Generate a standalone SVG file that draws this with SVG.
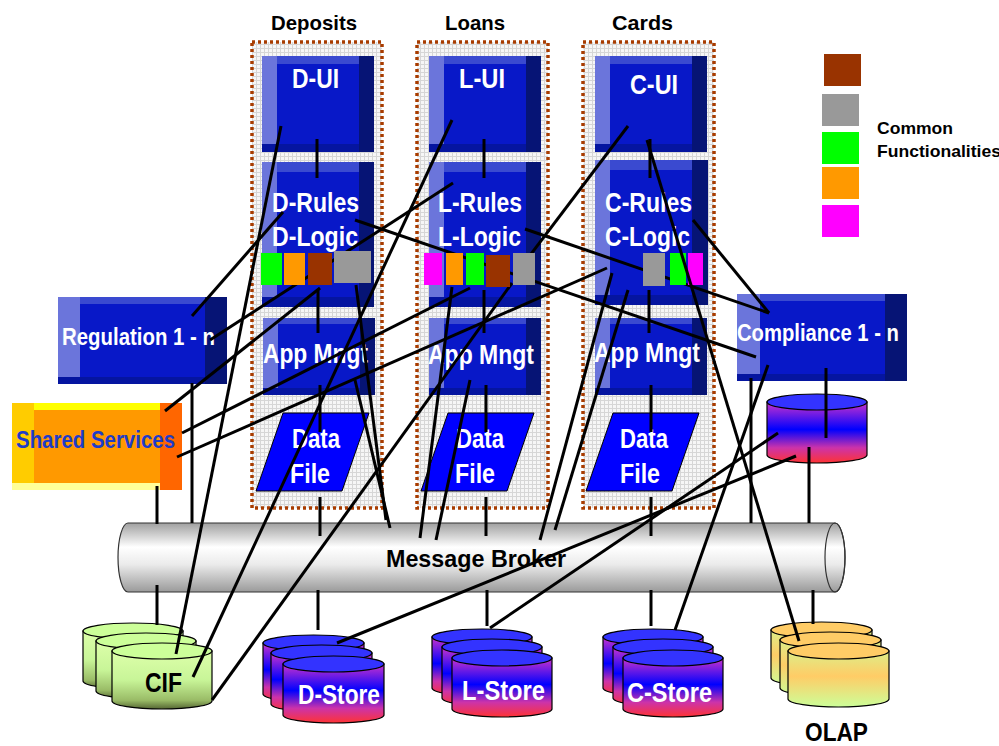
<svg xmlns="http://www.w3.org/2000/svg" width="999" height="746" viewBox="0 0 999 746">
<defs>
<pattern id="grid" width="4" height="4" patternUnits="userSpaceOnUse">
<rect width="4" height="4" fill="#f6f6f6"/>
<path d="M0 0.5H4M0.5 0V4" stroke="#d6d6d6" stroke-width="1"/>
</pattern>
<linearGradient id="gBroker" x1="0" y1="0" x2="0" y2="1">
<stop offset="0" stop-color="#a0a0a0"/><stop offset="0.35" stop-color="#ffffff"/><stop offset="0.6" stop-color="#ebebeb"/><stop offset="1" stop-color="#9a9a9a"/>
</linearGradient>
<linearGradient id="gStore" x1="0" y1="0" x2="0" y2="1">
<stop offset="0" stop-color="#cc33cc"/><stop offset="0.45" stop-color="#0000ff"/><stop offset="0.75" stop-color="#cc33aa"/><stop offset="1" stop-color="#ff3333"/>
</linearGradient>
<linearGradient id="gCif" x1="0" y1="0" x2="0" y2="1">
<stop offset="0" stop-color="#ddffaa"/><stop offset="0.5" stop-color="#c8f598"/><stop offset="0.85" stop-color="#99bb66"/><stop offset="1" stop-color="#556633"/>
</linearGradient>
<linearGradient id="gOlap" x1="0" y1="0" x2="0" y2="1">
<stop offset="0" stop-color="#ddee88"/><stop offset="0.45" stop-color="#ffcc66"/><stop offset="1" stop-color="#ccff99"/>
</linearGradient>
</defs>
<style>
.col{fill:url(#grid);stroke:#a83c00;stroke-width:3.5;stroke-dasharray:3 3}
.bm{fill:#0818c8}.bl{fill:#6b75db}.bt{fill:#3a4ad0}.br{fill:#061475}.bb{fill:#0515a0}
.df{fill:#0000ff;stroke:#000;stroke-width:1}
.t{font-family:"Liberation Sans",Arial,Helvetica,sans-serif;font-weight:bold}
.w{fill:#fff}.k{fill:#000}
.cyl{stroke:#000;stroke-width:1.2}
.ln{stroke:#000;stroke-width:3;fill:none;stroke-linecap:butt}
</style>

<!-- titles -->
<g id="titles" class="t k" font-size="21">
<text x="271" y="30" textLength="86" lengthAdjust="spacingAndGlyphs">Deposits</text>
<text x="445" y="30" textLength="60" lengthAdjust="spacingAndGlyphs">Loans</text>
<text x="612" y="30" textLength="61" lengthAdjust="spacingAndGlyphs">Cards</text>
</g>

<!-- columns -->
<g id="col-deposits"><rect class="col" x="252" y="42" width="130" height="466"/></g>
<g id="col-loans"><rect class="col" x="417" y="42" width="131" height="466"/></g>
<g id="col-cards"><rect class="col" x="583" y="42" width="131" height="466"/></g>

<!-- Deposits boxes -->
<g id="d-ui">
<rect class="bm" x="262" y="56" width="112" height="96"/><rect class="bt" x="262" y="56" width="112" height="8"/><rect class="bl" x="262" y="56" width="15" height="88"/><rect class="br" x="359" y="56" width="15" height="96"/><rect class="bb" x="262" y="144" width="97" height="8"/>
<text class="t w" x="292" y="88" font-size="28" textLength="47" lengthAdjust="spacingAndGlyphs">D-UI</text>
</g>
<g id="d-rules">
<rect class="bm" x="262" y="162" width="112" height="145"/><rect class="bt" x="262" y="162" width="112" height="10"/><rect class="bl" x="262" y="162" width="15" height="135"/><rect class="br" x="359" y="162" width="15" height="145"/><rect class="bb" x="262" y="297" width="97" height="10"/>
<text class="t w" x="272" y="212" font-size="27" textLength="87" lengthAdjust="spacingAndGlyphs">D-Rules</text>
<text class="t w" x="272" y="246" font-size="27" textLength="86" lengthAdjust="spacingAndGlyphs">D-Logic</text>
</g>
<g id="d-app">
<rect class="bm" x="263" y="318" width="112" height="77"/><rect class="bt" x="263" y="318" width="112" height="6"/><rect class="bl" x="263" y="318" width="15" height="70"/><rect class="br" x="360" y="318" width="15" height="77"/><rect class="bb" x="263" y="388" width="97" height="7"/>
<text class="t w" x="263" y="363" font-size="27" textLength="105" lengthAdjust="spacingAndGlyphs">App Mngt</text>
</g>
<g id="d-data">
<polygon class="df" points="283,413 369,413 342,491 256,491"/>
<text class="t w" x="292" y="448" font-size="27" textLength="48" lengthAdjust="spacingAndGlyphs">Data</text>
<text class="t w" x="290" y="483" font-size="27" textLength="40" lengthAdjust="spacingAndGlyphs">File</text>
</g>

<!-- Loans boxes -->
<g id="l-ui">
<rect class="bm" x="429" y="56" width="112" height="96"/><rect class="bt" x="429" y="56" width="112" height="8"/><rect class="bl" x="429" y="56" width="15" height="88"/><rect class="br" x="526" y="56" width="15" height="96"/><rect class="bb" x="429" y="144" width="97" height="8"/>
<text class="t w" x="459" y="88" font-size="28" textLength="46" lengthAdjust="spacingAndGlyphs">L-UI</text>
</g>
<g id="l-rules">
<rect class="bm" x="429" y="162" width="112" height="145"/><rect class="bt" x="429" y="162" width="112" height="10"/><rect class="bl" x="429" y="162" width="15" height="135"/><rect class="br" x="526" y="162" width="15" height="145"/><rect class="bb" x="429" y="297" width="97" height="10"/>
<text class="t w" x="438" y="212" font-size="27" textLength="84" lengthAdjust="spacingAndGlyphs">L-Rules</text>
<text class="t w" x="438" y="246" font-size="27" textLength="83" lengthAdjust="spacingAndGlyphs">L-Logic</text>
</g>
<g id="l-app">
<rect class="bm" x="429" y="318" width="112" height="77"/><rect class="bt" x="429" y="318" width="112" height="6"/><rect class="bl" x="429" y="318" width="15" height="70"/><rect class="br" x="526" y="318" width="15" height="77"/><rect class="bb" x="429" y="388" width="97" height="7"/>
<text class="t w" x="428" y="364" font-size="27" textLength="106" lengthAdjust="spacingAndGlyphs">App Mngt</text>
</g>
<g id="l-data">
<polygon class="df" points="448,413 534,413 507,491 421,491"/>
<text class="t w" x="456" y="448" font-size="27" textLength="48" lengthAdjust="spacingAndGlyphs">Data</text>
<text class="t w" x="455" y="483" font-size="27" textLength="40" lengthAdjust="spacingAndGlyphs">File</text>
</g>

<!-- Cards boxes -->
<g id="c-ui">
<rect class="bm" x="595" y="56" width="112" height="96"/><rect class="bt" x="595" y="56" width="112" height="8"/><rect class="bl" x="595" y="56" width="15" height="88"/><rect class="br" x="692" y="56" width="15" height="96"/><rect class="bb" x="595" y="144" width="97" height="8"/>
<text class="t w" x="630" y="94" font-size="28" textLength="48" lengthAdjust="spacingAndGlyphs">C-UI</text>
</g>
<g id="c-rules">
<rect class="bm" x="595" y="160" width="113" height="145"/><rect class="bt" x="595" y="160" width="113" height="10"/><rect class="bl" x="595" y="160" width="15" height="135"/><rect class="br" x="692" y="160" width="16" height="145"/><rect class="bb" x="595" y="295" width="97" height="10"/>
<text class="t w" x="605" y="212" font-size="27" textLength="87" lengthAdjust="spacingAndGlyphs">C-Rules</text>
<text class="t w" x="605" y="246" font-size="27" textLength="85" lengthAdjust="spacingAndGlyphs">C-Logic</text>
</g>
<g id="c-app">
<rect class="bm" x="595" y="318" width="112" height="77"/><rect class="bt" x="595" y="318" width="112" height="6"/><rect class="bl" x="595" y="318" width="15" height="70"/><rect class="br" x="692" y="318" width="15" height="77"/><rect class="bb" x="595" y="388" width="97" height="7"/>
<text class="t w" x="594" y="362" font-size="27" textLength="106" lengthAdjust="spacingAndGlyphs">App Mngt</text>
</g>
<g id="c-data">
<polygon class="df" points="613,413 699,413 672,491 586,491"/>
<text class="t w" x="620" y="448" font-size="27" textLength="48" lengthAdjust="spacingAndGlyphs">Data</text>
<text class="t w" x="620" y="483" font-size="27" textLength="40" lengthAdjust="spacingAndGlyphs">File</text>
</g>

<!-- Regulation -->
<g id="regulation">
<rect class="bm" x="58" y="297" width="169" height="87"/><rect class="bt" x="58" y="297" width="169" height="7"/><rect class="bl" x="58" y="297" width="22" height="80"/><rect class="br" x="205" y="297" width="22" height="87"/><rect class="bb" x="58" y="377" width="147" height="7"/>
<text class="t w" x="62" y="345" font-size="23" textLength="153" lengthAdjust="spacingAndGlyphs">Regulation 1 - n</text>
</g>

<!-- Shared services -->
<g id="shared-services">
<rect x="12" y="403" width="170" height="87" fill="#ff9900"/>
<rect x="12" y="403" width="170" height="7" fill="#ffff00"/>
<rect x="12" y="403" width="22" height="80" fill="#ffcc00"/>
<rect x="160" y="403" width="22" height="87" fill="#ff6600"/>
<rect x="12" y="483" width="148" height="7" fill="#ffff99"/>
<text class="t" fill="#1e3cc8" x="16" y="448" font-size="24" textLength="159" lengthAdjust="spacingAndGlyphs">Shared Services</text>
</g>

<!-- Compliance -->
<g id="compliance">
<rect class="bm" x="737" y="294" width="170" height="87"/><rect class="bt" x="737" y="294" width="170" height="7"/><rect class="bl" x="737" y="294" width="23" height="80"/><rect class="br" x="885" y="294" width="22" height="87"/><rect class="bb" x="737" y="374" width="148" height="7"/>
<text class="t w" x="737" y="341" font-size="23" textLength="162" lengthAdjust="spacingAndGlyphs">Compliance 1 - n</text>
</g>

<!-- Compliance DB -->
<g id="compliance-db">
<path class="cyl" fill="url(#gStore)" d="M767,402V455A50,8 0 0 0 867,455V402Z"/>
<ellipse class="cyl" cx="817" cy="402" rx="50" ry="8" fill="#3333ff"/>
</g>

<!-- Message broker -->
<g id="message-broker">
<path fill="url(#gBroker)" stroke="#333" stroke-width="1.2" d="M128,523H835A10,34.5 0 0 1 835,592H128A10,34.5 0 0 1 128,523Z"/>
<ellipse cx="835" cy="557.5" rx="10" ry="34.5" fill="none" stroke="#333" stroke-width="1.2"/>
<text class="t k" x="386" y="567" font-size="24" textLength="180" lengthAdjust="spacingAndGlyphs">Message Broker</text>
</g>

<!-- CIF -->
<g id="cif">
<path class="cyl" fill="url(#gCif)" d="M83,631V681A50,8 0 0 0 183,681V631Z"/><ellipse class="cyl" cx="133" cy="631" rx="50" ry="8" fill="#ccff99"/>
<path class="cyl" fill="url(#gCif)" d="M96,641V691A50,8 0 0 0 196,691V641Z"/><ellipse class="cyl" cx="146" cy="641" rx="50" ry="8" fill="#ccff99"/>
<path class="cyl" fill="url(#gCif)" d="M112,651V701A50,8 0 0 0 212,701V651Z"/><ellipse class="cyl" cx="162" cy="651" rx="50" ry="8" fill="#ccff99"/>
<text class="t k" x="145" y="692" font-size="28" textLength="37" lengthAdjust="spacingAndGlyphs">CIF</text>
</g>

<!-- D-Store -->
<g id="d-store">
<path class="cyl" fill="url(#gStore)" d="M263,643V694A50.5,8 0 0 0 364,694V643Z"/><ellipse class="cyl" cx="313.5" cy="643" rx="50.5" ry="8" fill="#3333ff"/>
<path class="cyl" fill="url(#gStore)" d="M271,653V704A50.5,8 0 0 0 372,704V653Z"/><ellipse class="cyl" cx="321.5" cy="653" rx="50.5" ry="8" fill="#3333ff"/>
<path class="cyl" fill="url(#gStore)" d="M283,664V715A50.5,8 0 0 0 384,715V664Z"/><ellipse class="cyl" cx="333.5" cy="664" rx="50.5" ry="8" fill="#3333ff"/>
<text class="t w" x="298" y="704" font-size="27" textLength="82" lengthAdjust="spacingAndGlyphs">D-Store</text>
</g>

<!-- L-Store -->
<g id="l-store">
<path class="cyl" fill="url(#gStore)" d="M432,637V688A50,8 0 0 0 532,688V637Z"/><ellipse class="cyl" cx="482" cy="637" rx="50" ry="8" fill="#3333ff"/>
<path class="cyl" fill="url(#gStore)" d="M442,647V698A50,8 0 0 0 542,698V647Z"/><ellipse class="cyl" cx="492" cy="647" rx="50" ry="8" fill="#3333ff"/>
<path class="cyl" fill="url(#gStore)" d="M452,658V709A50,8 0 0 0 552,709V658Z"/><ellipse class="cyl" cx="502" cy="658" rx="50" ry="8" fill="#3333ff"/>
<text class="t w" x="462" y="700" font-size="27" textLength="83" lengthAdjust="spacingAndGlyphs">L-Store</text>
</g>

<!-- C-Store -->
<g id="c-store">
<path class="cyl" fill="url(#gStore)" d="M603,637V688A50,8 0 0 0 703,688V637Z"/><ellipse class="cyl" cx="653" cy="637" rx="50" ry="8" fill="#3333ff"/>
<path class="cyl" fill="url(#gStore)" d="M613,647V698A50,8 0 0 0 713,698V647Z"/><ellipse class="cyl" cx="663" cy="647" rx="50" ry="8" fill="#3333ff"/>
<path class="cyl" fill="url(#gStore)" d="M623,658V709A50,8 0 0 0 723,709V658Z"/><ellipse class="cyl" cx="673" cy="658" rx="50" ry="8" fill="#3333ff"/>
<text class="t w" x="627" y="702" font-size="27" textLength="85" lengthAdjust="spacingAndGlyphs">C-Store</text>
</g>

<!-- OLAP -->
<g id="olap">
<path class="cyl" fill="url(#gOlap)" d="M771,630V678A50.5,8 0 0 0 872,678V630Z"/><ellipse class="cyl" cx="821.5" cy="630" rx="50.5" ry="8" fill="#ffcc66"/>
<path class="cyl" fill="url(#gOlap)" d="M780,640V688A50.5,8 0 0 0 881,688V640Z"/><ellipse class="cyl" cx="830.5" cy="640" rx="50.5" ry="8" fill="#ffcc66"/>
<path class="cyl" fill="url(#gOlap)" d="M788,651V699A50.5,8 0 0 0 889,699V651Z"/><ellipse class="cyl" cx="838.5" cy="651" rx="50.5" ry="8" fill="#ffcc66"/>
<text class="t k" x="805" y="741" font-size="26" textLength="63" lengthAdjust="spacingAndGlyphs">OLAP</text>
</g>

<!-- legend -->
<g id="legend">
<rect x="824" y="54" width="37" height="32" fill="#993300"/>
<rect x="822" y="94" width="37" height="32" fill="#999999"/>
<rect x="822" y="132" width="37" height="32" fill="#00ff00"/>
<rect x="822" y="167" width="37" height="32" fill="#ff9900"/>
<rect x="822" y="205" width="37" height="32" fill="#ff00ff"/>
<text class="t k" x="877" y="134" font-size="17" textLength="76" lengthAdjust="spacingAndGlyphs">Common</text>
<text class="t k" x="877" y="157" font-size="17" textLength="124" lengthAdjust="spacingAndGlyphs">Functionalities</text>
</g>

<!-- connectors -->
<g id="connectors" class="ln">
<line x1="317" y1="139" x2="317" y2="178"/>
<line x1="318" y1="290" x2="318" y2="333"/>
<line x1="320" y1="385" x2="320" y2="432"/>
<line x1="320" y1="497" x2="320" y2="536"/>
<line x1="484" y1="139" x2="484" y2="178"/>
<line x1="484" y1="290" x2="484" y2="333"/>
<line x1="486" y1="385" x2="486" y2="432"/>
<line x1="486" y1="497" x2="486" y2="536"/>
<line x1="650" y1="139" x2="650" y2="178"/>
<line x1="649" y1="290" x2="649" y2="333"/>
<line x1="651" y1="385" x2="651" y2="432"/>
<line x1="651" y1="497" x2="651" y2="536"/>
<line x1="157" y1="486" x2="157" y2="524"/>
<line x1="192" y1="383" x2="192" y2="523"/>
<line x1="751" y1="378" x2="751" y2="523"/>
<line x1="826" y1="368" x2="826" y2="438"/>
<line x1="809" y1="447" x2="809" y2="523"/>
<line x1="157" y1="585" x2="157" y2="625"/>
<line x1="318" y1="590" x2="318" y2="630"/>
<line x1="487" y1="590" x2="487" y2="626"/>
<line x1="651" y1="590" x2="651" y2="626"/>
<line x1="813" y1="590" x2="813" y2="624"/>
<line x1="281" y1="126" x2="176" y2="654"/>
<line x1="283" y1="212" x2="192" y2="316"/>
<line x1="453" y1="183" x2="210" y2="340"/>
<line x1="355" y1="220" x2="756" y2="357"/>
<line x1="525" y1="229" x2="769" y2="313"/>
<line x1="693" y1="220" x2="769" y2="313"/>
<line x1="628" y1="126" x2="528" y2="258"/>
<line x1="512" y1="283" x2="212" y2="700"/>
<line x1="452" y1="120" x2="193" y2="677"/>
<line x1="320" y1="288" x2="165" y2="411"/>
<line x1="470" y1="288" x2="182" y2="433"/>
<line x1="607" y1="268" x2="177" y2="457"/>
<line x1="796" y1="456" x2="337" y2="643"/>
<line x1="778" y1="433" x2="490" y2="628"/>
<line x1="768" y1="365" x2="675" y2="630"/>
<line x1="356" y1="285" x2="386" y2="520"/>
<line x1="355" y1="380" x2="390" y2="528"/>
<line x1="452" y1="287" x2="420" y2="538"/>
<line x1="470" y1="380" x2="436" y2="540"/>
<line x1="612" y1="273" x2="540" y2="540"/>
<line x1="628" y1="290" x2="555" y2="530"/>
</g>

<!-- common functionality squares -->
<g id="d-squares">
<rect x="261" y="253" width="21" height="32" fill="#00ff00"/>
<rect x="284" y="253" width="21" height="32" fill="#ff9900"/>
<rect x="308" y="253" width="24" height="32" fill="#993300"/>
<rect x="334" y="251" width="37" height="32" fill="#999999"/>
</g>
<g id="l-squares">
<rect x="424" y="253" width="18" height="32" fill="#ff00ff"/>
<rect x="446" y="253" width="17" height="32" fill="#ff9900"/>
<rect x="466" y="253" width="18" height="32" fill="#00ff00"/>
<rect x="486" y="255" width="24" height="32" fill="#993300"/>
<rect x="513" y="253" width="22" height="32" fill="#999999"/>
</g>
<g id="c-squares">
<rect x="643" y="253" width="22" height="33" fill="#999999"/>
<rect x="670" y="253" width="16" height="32" fill="#00ff00"/>
<rect x="688" y="253" width="15" height="32" fill="#ff00ff"/>
</g>
<g id="connector-over" class="ln">
<line x1="647" y1="140" x2="799" y2="641"/>
</g>
</svg>
